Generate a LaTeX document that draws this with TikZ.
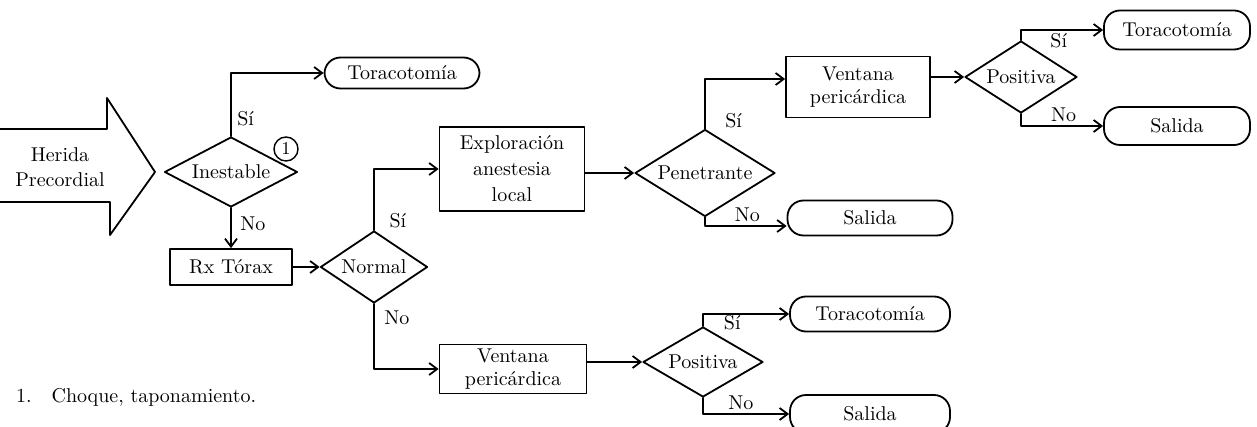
\documentclass[tikz,border=0pt]{standalone}
\usepackage{fontspec}
\usetikzlibrary{arrows.meta,shapes.geometric}

\begin{document}
\begin{tikzpicture}[
  x=.5pt,y=-.5pt,
  font=\fontsize{10}{12.5}\selectfont,
  caja/.style={draw,line width=.9pt,align=center,inner sep=2pt},
  rombo/.style={draw,diamond,line width=.9pt,inner sep=0pt,aspect=1.8},
  fin/.style={draw,rounded corners=8pt,line width=.9pt,inner sep=2pt},
  flecha/.style={-{Straight Barb[length=4pt,width=6pt]},line width=.9pt},
  etiq/.style={inner sep=1.5pt},
  every path/.style={line cap=round,line join=round}
]
\useasboundingbox (0,0) rectangle (1257,427);

% Entry arrow, open on the left edge.
\draw[line width=.9pt] (0,129) -- (107,129) -- (107,98) -- (155,172)
  -- (110,235) -- (110,202) -- (0,202);
\node[align=center] (herida) at (60,167) {Herida\\Precordial};

\node[rombo,minimum width=66.5pt,minimum height=35pt] (inestable) at (231,172) {Inestable};
\node[circle,draw,line width=.7pt,inner sep=0pt,minimum size=12pt,
      font=\fontsize{9}{9}\selectfont] (nota1) at (286,149) {1};
\node[fin,minimum width=77.5pt,minimum height=15.5pt] (toracA) at (402,73) {Toracotomía};
\node[caja,minimum width=61pt,minimum height=18pt] (rx) at (231,267) {Rx Tórax};
\node[rombo,minimum width=53.5pt,minimum height=36pt] (normal) at (374,267) {Normal};

\node[caja,minimum width=72.5pt,minimum height=42pt,font=\fontsize{10}{13}\selectfont]
  (exploracion) at (512,169) {Exploración\\anestesia\\local};
\node[rombo,minimum width=70pt,minimum height=43.5pt] (penetrante) at (705,173) {Penetrante};
\node[fin,minimum width=82.5pt,minimum height=17.5pt] (salidaA) at (870,218) {Salida};

\node[caja,minimum width=72pt,minimum height=30.5pt,font=\fontsize{10}{11.5}\selectfont]
  (ventanaA) at (858,87) {Ventana\\pericárdica};
\node[rombo,minimum width=56pt,minimum height=36pt] (positivaA) at (1021,77) {Positiva};
\node[fin,minimum width=73pt,minimum height=19.5pt] (toracB) at (1177,30) {Toracotomía};
\node[fin,minimum width=73pt,minimum height=19pt] (salidaB) at (1177,126) {Salida};

\node[caja,minimum width=73.5pt,minimum height=24.5pt,font=\fontsize{10}{11.5}\selectfont]
  (ventanaB) at (513,369) {Ventana\\pericárdica};
\node[rombo,minimum width=60pt,minimum height=35pt] (positivaB) at (703,362) {Positiva};
\node[fin,minimum width=80pt,minimum height=17.5pt] (toracC) at (870,314) {Toracotomía};
\node[fin,minimum width=80pt,minimum height=19pt] (salidaC) at (870,414) {Salida};

\node[anchor=west] (nota) at (9,397) {1.\quad Choque, taponamiento.};

\draw[flecha] (inestable.north) |- node[etiq,pos=.14,right=1.2pt] {Sí} (toracA.west);
\draw[flecha] (inestable.south) -- node[etiq,pos=.4,right=2.7pt] {No} (rx.north);
\draw[flecha] (rx.east) -- (normal.west);
\draw[flecha] (normal.north) |- node[etiq,pos=.08,right=5.8pt] {Sí} (exploracion.west);
\draw[flecha] (normal.south) |- node[etiq,pos=.11,right=3.2pt] {No} (ventanaB.west);
\draw[flecha] (exploracion.east |- penetrante.west) -- (penetrante.west);
\draw[flecha] (penetrante.north) |- node[etiq,pos=.08,right=8.2pt] {Sí}
  ([yshift=4pt]ventanaA.west);
\draw[flecha] (penetrante.south) |- node[etiq,pos=.76,above=0pt] {No}
  ([yshift=-4pt]salidaA.west);
\draw[flecha] (ventanaA.east |- positivaA.west) -- (positivaA.west);
\draw[flecha] (positivaA.north) |- node[etiq,pos=.73,below=0pt] {Sí} (toracB.west);
\draw[flecha] (positivaA.south) |- node[etiq,pos=.76,above=0pt] {No} (salidaB.west);
\draw[flecha] (ventanaB.east |- positivaB.west) -- (positivaB.west);
\draw[flecha] (positivaB.north) |- node[etiq,pos=.67,below=-1.5pt] {Sí} (toracC.west);
\draw[flecha] (positivaB.south) |- node[etiq,pos=.72,above=0pt] {No} (salidaC.west);
\end{tikzpicture}
\end{document}
